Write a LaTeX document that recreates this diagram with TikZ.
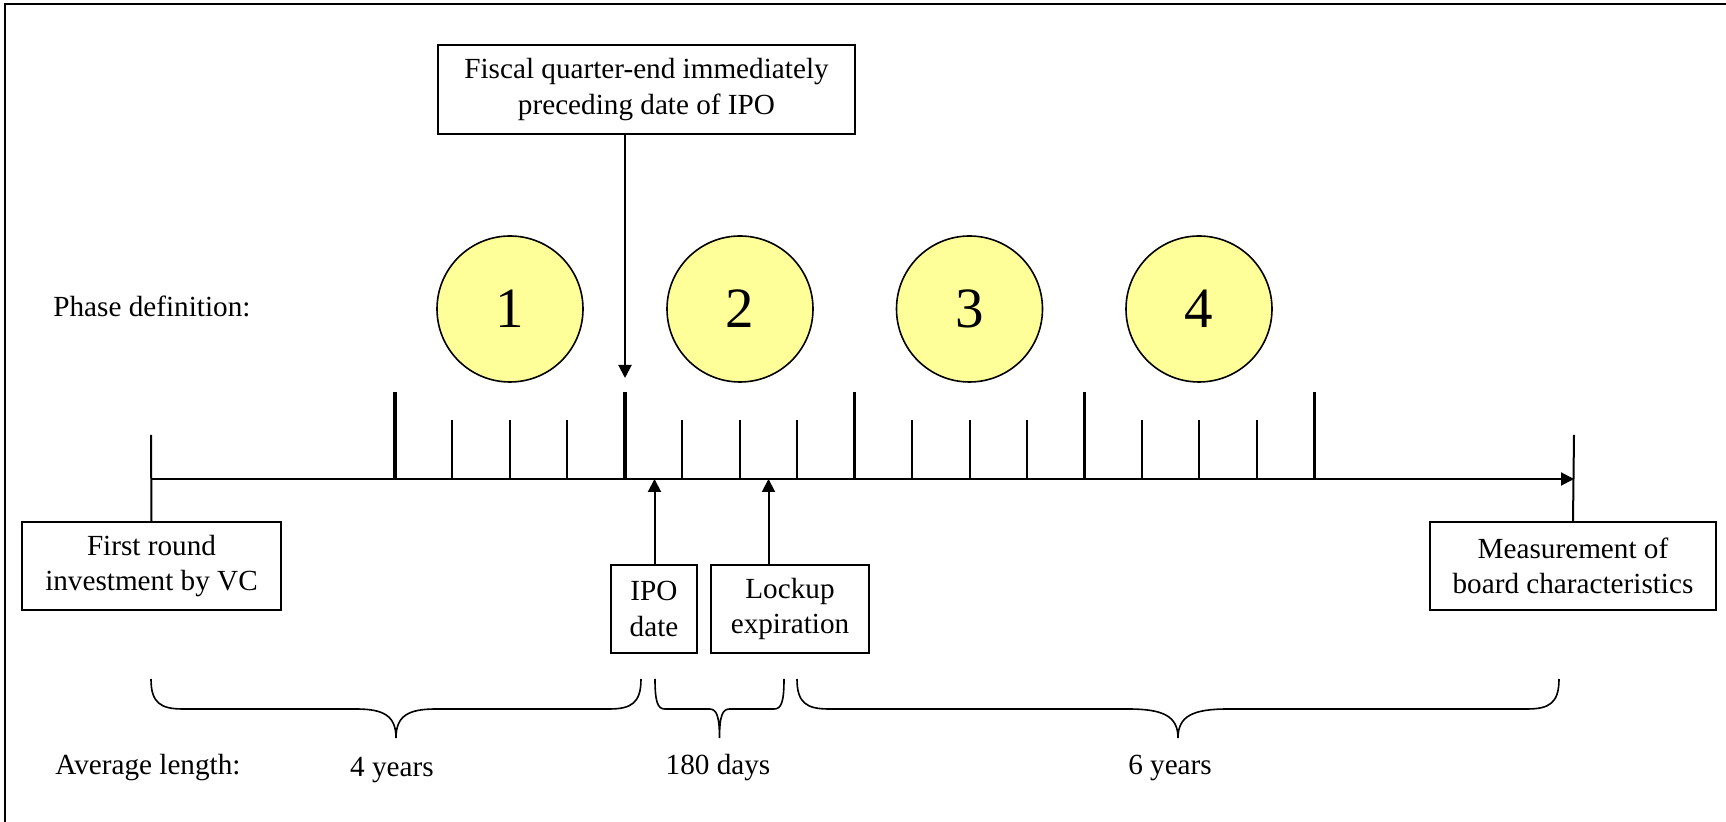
\documentclass[tikz,border=0pt]{standalone}
\usepackage{fontspec}
\setmainfont{Liberation Serif}
\usetikzlibrary{arrows.meta}
\definecolor{phaseyellow}{HTML}{FFFF99}
\newcommand{\mybrace}[4]{%
  \pgfmathsetmacro\xm{(#1+#2)/2}%
  \draw[line width=0.8pt] (#1,679) .. controls (#1,703) and ({#1+#3*0.3},709) .. ({#1+#3},709)
    -- ({\xm-#4},709) .. controls ({\xm-#4*0.3},709) and (\xm,716) .. (\xm,738)
    .. controls (\xm,716) and ({\xm+#4*0.3},709) .. ({\xm+#4},709)
    -- ({#2-#3},709) .. controls ({#2-#3*0.3},709) and (#2,703) .. (#2,679);
}
\begin{document}
\begin{tikzpicture}[x=0.5pt,y=-0.5pt,
  txt/.style={font=\fontsize{14.6}{17.6}\selectfont, inner sep=0pt},
  box/.style={draw, line width=1pt, txt, align=center},
  phase/.style={circle, draw, line width=0.8pt, fill=phaseyellow, minimum size=73pt, inner sep=0pt, font=\fontsize{28.5}{30}\selectfont},
  arr/.style={line width=1pt, -{Triangle[length=6.5pt,width=6.5pt]}},
  thin/.style={line width=1pt},
  major/.style={line width=1.7pt}]
\useasboundingbox (0,0) rectangle (1726,822);
% frame
\draw[line width=1pt] (5,822) -- (5,4) -- (1726,4);
% top box
\node[box, minimum width=208.5pt, minimum height=44.5pt] (fq) at (646.5,89.5) {Fiscal quarter-end immediately\\preceding date of IPO};
% phases
\node[txt, anchor=base west] (phdef) at (53,317) {Phase definition:};
\node[phase] (p1) at (510,309) {1};
\node[phase] (p2) at (740,309) {2};
\node[phase] (p3) at (969.5,309) {3};
\node[phase] (p4) at (1199,309) {4};
% axis
\coordinate (axL) at (151,479);
\coordinate (axR) at (1574,479);
\coordinate (vlL) at (151,435);
\coordinate (vlR) at (1574,435);
\draw[arr] (axL) -- (axR);
% ticks
\foreach \i in {0,...,4} \draw[major] ({395+229.8*\i},479) -- ++(0,-87);
\foreach \i in {0,...,3} \foreach \j in {1,2,3} \draw[thin] ({395+229.8*\i+57.45*\j},479) -- ++(0,-59);
% end boxes
\node[box, minimum width=129.5pt, minimum height=44pt] (first) at (151.5,566) {First round\\investment by VC};
\node[box, minimum width=143pt, minimum height=44pt] (meas) at (1573,566) {Measurement of\\board characteristics};
\draw[thin] (first.north) -- (vlL);
\draw[thin] (meas.north) -- (vlR);
% IPO and lockup
\node[box, minimum width=43pt, minimum height=44pt] (ipo) at (654,609) {IPO\\date};
\node[box, minimum width=79pt, minimum height=44pt] (lock) at (790,609) {Lockup\\expiration};
\coordinate (ipoTip) at (654.5,479);
\coordinate (lockTip) at (768.5,479);
\coordinate (fqTip) at (625,378);
\draw[arr] (ipo.north -| ipoTip) -- (ipoTip);
\draw[arr] (lock.north -| lockTip) -- (lockTip);
\draw[arr] (fq.south -| fqTip) -- (fqTip);
% braces
\mybrace{151}{641}{32}{40}
\mybrace{655}{784}{10}{10}
\mybrace{797}{1559}{32}{50}
% lengths
\node[txt, anchor=base west] (avg) at (55,775) {Average length:};
\node[txt, anchor=base] (l1) at (392,777) {4 years};
\node[txt, anchor=base] (l2) at (718,775) {180 days};
\node[txt, anchor=base] (l3) at (1170,775) {6 years};
\end{tikzpicture}
\end{document}
